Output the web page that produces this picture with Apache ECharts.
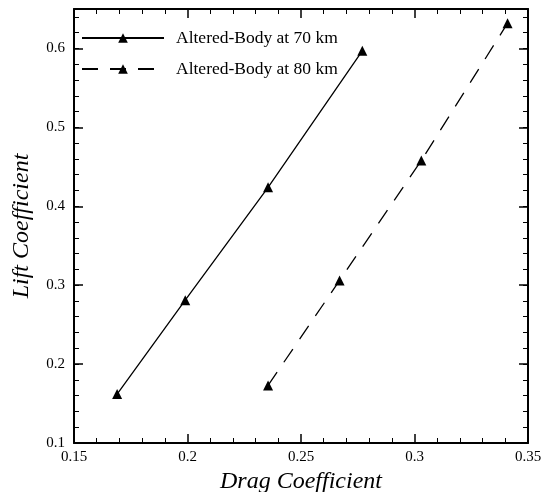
<!DOCTYPE html>
<html>
<head>
<meta charset="utf-8">
<script src="https://cdn.jsdelivr.net/npm/echarts@6/dist/echarts.min.js"></script>
<style>html,body{margin:0;padding:0;background:#fff;}#c{width:549px;height:492px;}</style>
</head>
<body>
<div id="c"></div>
<script>
var seriesNames = ['Altered-Body at 70 km', 'Altered-Body at 80 km'];
var drag70 = [0.169, 0.199, 0.2355, 0.277];
var lift70 = [0.162, 0.281, 0.424, 0.597];
var drag80 = [0.2355, 0.267, 0.303, 0.341];
var lift80 = [0.173, 0.306, 0.458, 0.632];
var xTickLabels = ['0.15', '0.2', '0.25', '0.3', '0.35'];
var yTickLabels = ['0.1', '0.2', '0.3', '0.4', '0.5', '0.6'];

function pairs(xs, ys) { return xs.map(function (x, i) { return [x, ys[i]]; }); }

var font = '"Liberation Serif", "Times New Roman", serif';
var chart = echarts.init(document.getElementById('c'), null, { renderer: 'canvas' });
var axLine = { show: true, onZero: false, lineStyle: { color: '#000', width: 2 } };
var majorTick = { show: true, inside: true, length: 9, lineStyle: { color: '#000', width: 1.5 } };
var minorTickStyle = { show: true, inside: true, length: 5, lineStyle: { color: '#000', width: 1 } };
var labelStyle = { color: '#000', fontFamily: font, fontSize: 15 };

chart.setOption({
  animation: false,
  backgroundColor: '#fff',
  grid: { left: 74, right: 21, top: 9, bottom: 49, containLabel: false, outerBoundsMode: 'none' },
  legend: {
    orient: 'vertical', left: 76, top: 24, itemWidth: 82, itemHeight: 12, itemGap: 13,
    data: seriesNames,
    textStyle: { color: '#000', fontFamily: font, fontSize: 17.5, padding: [0, 0, 0, 7] }
  },
  xAxis: [
    { type: 'value', position: 'bottom', min: 0.15, max: 0.35, interval: 0.05,
      axisLine: axLine, axisTick: majorTick,
      minorTick: { show: true, splitNumber: 5, length: 5, lineStyle: { color: '#000', width: 1 } },
      splitLine: { show: false }, minorSplitLine: { show: false },
      axisLabel: Object.assign({ margin: 7, formatter: function (v) { var s = String(+v.toFixed(2)); return xTickLabels.indexOf(s) >= 0 ? s : ''; } }, labelStyle),
      name: 'Drag Coefficient', nameLocation: 'middle', nameGap: 22,
      nameTextStyle: { color: '#000', fontFamily: font, fontSize: 24, fontStyle: 'italic' } },
    { type: 'value', position: 'top', min: 0.15, max: 0.35, interval: 0.05,
      axisLine: axLine, axisTick: majorTick,
      minorTick: { show: true, splitNumber: 5, length: 5, lineStyle: { color: '#000', width: 1 } },
      splitLine: { show: false }, axisLabel: { show: false } }
  ],
  yAxis: [
    { type: 'value', position: 'left', min: 0.1, max: 0.65, interval: 0.1,
      axisLine: axLine, axisTick: majorTick, splitLine: { show: false },
      axisLabel: Object.assign({ margin: 9, showMaxLabel: false, formatter: function (v) { var s = String(+v.toFixed(2)); return yTickLabels.indexOf(s) >= 0 ? s : ''; } }, labelStyle),
      name: 'Lift Coefficient', nameLocation: 'middle', nameGap: 40, nameRotate: 90,
      nameTextStyle: { color: '#000', fontFamily: font, fontSize: 24, fontStyle: 'italic' } },
    { type: 'value', position: 'left', min: 0.1, max: 0.65, interval: 0.02,
      axisLine: { show: false }, axisTick: minorTickStyle, splitLine: { show: false }, axisLabel: { show: false } },
    { type: 'value', position: 'right', min: 0.1, max: 0.65, interval: 0.1,
      axisLine: axLine, axisTick: majorTick, splitLine: { show: false }, axisLabel: { show: false } },
    { type: 'value', position: 'right', min: 0.1, max: 0.65, interval: 0.02,
      axisLine: { show: false }, axisTick: minorTickStyle, splitLine: { show: false }, axisLabel: { show: false } }
  ],
  series: [
    { name: seriesNames[0], type: 'line', xAxisIndex: 0, yAxisIndex: 0,
      data: pairs(drag70, lift70), symbol: 'triangle', symbolSize: 10,
      itemStyle: { color: '#000' }, lineStyle: { color: '#000', width: 1.3, type: 'solid' } },
    { name: seriesNames[1], type: 'line', xAxisIndex: 0, yAxisIndex: 0,
      data: pairs(drag80, lift80), symbol: 'triangle', symbolSize: 10,
      itemStyle: { color: '#000' }, lineStyle: { color: '#000', width: 1.3, type: [16, 12] } }
  ]
});
</script>
</body>
</html>
